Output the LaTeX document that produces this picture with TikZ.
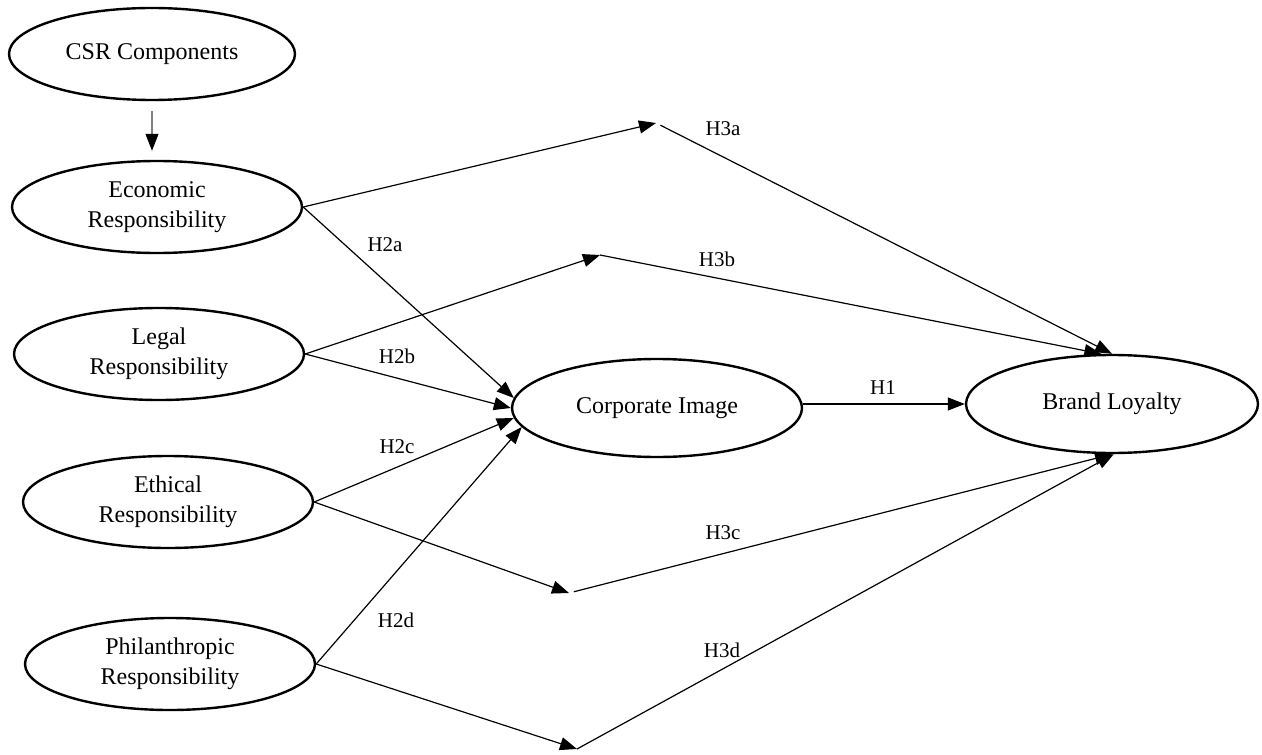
\documentclass[tikz,border=0pt]{standalone}
\usepackage{fontspec}
\setmainfont{Liberation Serif}
\usetikzlibrary{shapes.geometric,arrows.meta}

\begin{document}
\begin{tikzpicture}[x=0.5pt,y=-0.5pt,
    construct/.style={draw,ellipse,line width=1.2pt,inner sep=0pt,
      minimum width=145pt,minimum height=46pt,align=center,
      font=\fontsize{12}{15}\selectfont},
    link/.style={line width=0.6pt,-{Triangle[length=8.5pt,width=6.5pt]}},
    hyp/.style={font=\fontsize{10.5}{12}\selectfont}]
    \useasboundingbox (0,0) rectangle (1262,754);

    \node[construct,minimum width=143pt] (csr) at (152,54) {CSR Components};
    \node[construct] (econ) at (157,207) {Economic\\Responsibility};
    \node[construct] (legal) at (159,354) {Legal\\Responsibility};
    \node[construct] (ethic) at (168,502) {Ethical\\Responsibility};
    \node[construct] (phil) at (170,664) {Philanthropic\\Responsibility};
    \node[construct,minimum height=49pt] (ci) at (657,408) {Corporate Image};
    \node[construct,minimum width=146pt,minimum height=49pt] (bl) at (1112,404) {Brand Loyalty};

    \coordinate (m3a) at (656,123);
    \coordinate (m3b) at (600,255);
    \coordinate (m3c) at (569,593);
    \coordinate (m3d) at (577,749);

    \draw[line width=0.6pt,draw=gray,-{Triangle[length=8.5pt,width=6.5pt,black]},
      shorten <=5pt,shorten >=4.5pt] (csr.south) -- (csr.south |- econ.north);

    \draw[link] (econ.east) -- (ci.176);
    \draw[link] (legal.east) -- (ci.west);
    \draw[link] (ethic.east) -- (ci.184);
    \draw[link] (phil.east) -- (ci.188);
    \draw[link] (ci.east |- bl.west) -- (bl.west);

    \draw[link] (econ.east) -- (m3a);
    \draw[link,shorten <=2.5pt] (m3a) -- (bl.north);
    \draw[link] (legal.east) -- (m3b);
    \draw[link] (m3b) -- (bl.102);
    \draw[link] (ethic.east) -- (m3c);
    \draw[link,shorten <=2.5pt] (m3c) -- (bl.south);
    \draw[link] (phil.east) -- (m3d);
    \draw[link] (m3d) -- (bl.-88);

    \node[hyp] (h2a) at (385,245) {H2a};
    \node[hyp] (h2b) at (397,356) {H2b};
    \node[hyp] (h2c) at (397,447) {H2c};
    \node[hyp] (h2d) at (396,620) {H2d};
    \node[hyp] (h1) at (883,388) {H1};
    \node[hyp] (h3a) at (723,129) {H3a};
    \node[hyp] (h3b) at (717,259) {H3b};
    \node[hyp] (h3c) at (723,533) {H3c};
    \node[hyp] (h3d) at (722,650) {H3d};
  \end{tikzpicture}
\end{document}
